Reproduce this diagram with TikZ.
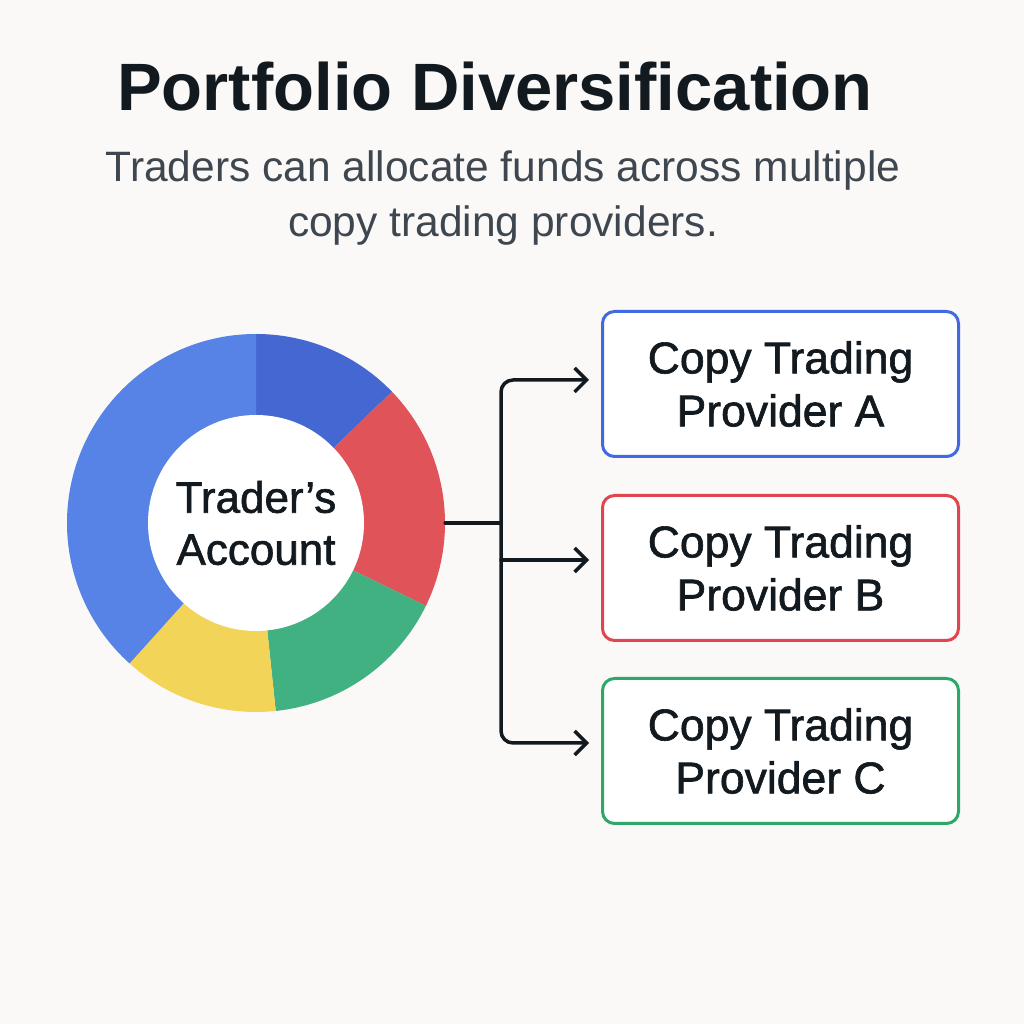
\documentclass[tikz,border=0pt]{standalone}
\usepackage{fontspec}
\setmainfont{Liberation Sans}
\newfontfamily\medfont[FakeBold=1.4]{Liberation Sans}
\usetikzlibrary{arrows.meta,calc}
\definecolor{bg}{HTML}{FAF9F7}
\definecolor{ink}{HTML}{121A20}
\definecolor{subink}{HTML}{3E4750}
\definecolor{segLblue}{HTML}{5783E6}
\definecolor{segDblue}{HTML}{4567D2}
\definecolor{segRed}{HTML}{E05359}
\definecolor{segGreen}{HTML}{41B181}
\definecolor{segYellow}{HTML}{F2D558}
\definecolor{bxBlue}{HTML}{4169E1}
\definecolor{bxRed}{HTML}{E0464E}
\definecolor{bxGreen}{HTML}{2EA86A}
\begin{document}
\begin{tikzpicture}[x=1pt,y=1pt,
  conn/.style={line width=3.5pt, draw=ink, line cap=round, line join=round},
  tipped/.style={-{Straight Barb[length=12pt,width=24pt]}, shorten >=12pt},
  provbox/.style={draw, line width=3pt, rounded corners=12pt, fill=white,
    minimum width=356pt, minimum height=145pt, align=center, text=ink,
    font=\medfont\fontsize{44.5}{53}\selectfont}
]
\useasboundingbox[fill=bg] (0,0) rectangle (1024,1024);

% title and subtitle
\node[anchor=base, text=ink, font=\fontsize{67}{80}\selectfont\bfseries] (title) at (495,913) {Portfolio Diversification};
\node[anchor=base, text=subink, align=center, font=\fontsize{42.5}{55}\selectfont] (sub) at (503,787) {Traders can allocate funds across multiple\\copy trading providers.};

% donut
\coordinate (cen) at (256,501);
\fill[segDblue] (cen) -- ++(44:189) arc[start angle=44, end angle=90, radius=189] -- cycle;
\fill[segRed] (cen) -- ++(-26:189) arc[start angle=-26, end angle=44, radius=189] -- cycle;
\fill[segGreen] (cen) -- ++(-84:189) arc[start angle=-84, end angle=-26, radius=189] -- cycle;
\fill[segYellow] (cen) -- ++(-132:189) arc[start angle=-132, end angle=-84, radius=189] -- cycle;
\fill[segLblue] (cen) -- ++(90:189) arc[start angle=90, end angle=228, radius=189] -- cycle;
\fill[white] (cen) circle[radius=108];
\node[circle, minimum size=378pt, inner sep=0pt, align=center, text=ink,
  font=\medfont\fontsize{44}{52}\selectfont] (acct) at (cen) {Trader’s\\Account};

% provider boxes
\node[provbox, draw=bxBlue] (provA) at (780.5,640) {Copy Trading\\Provider A};
\node[provbox, draw=bxRed] (provB) at (780.5,456) {Copy Trading\\Provider B};
\node[provbox, draw=bxGreen] (provC) at (780.5,273) {Copy Trading\\Provider C};

% connectors
\coordinate (split) at (501,501);
\coordinate (inA) at ([yshift=4pt]provA.west);
\coordinate (inB) at ([yshift=8pt]provB.west);
\coordinate (inC) at ([yshift=8pt]provC.west);
\draw[conn] (acct.east) -- (split);
\draw[conn, tipped, rounded corners=12pt] (split) |- (inA);
\draw[conn, tipped, rounded corners=12pt] (split) |- (inC);
\draw[conn, tipped] (split |- inB) -- (inB);
\end{tikzpicture}
\end{document}
